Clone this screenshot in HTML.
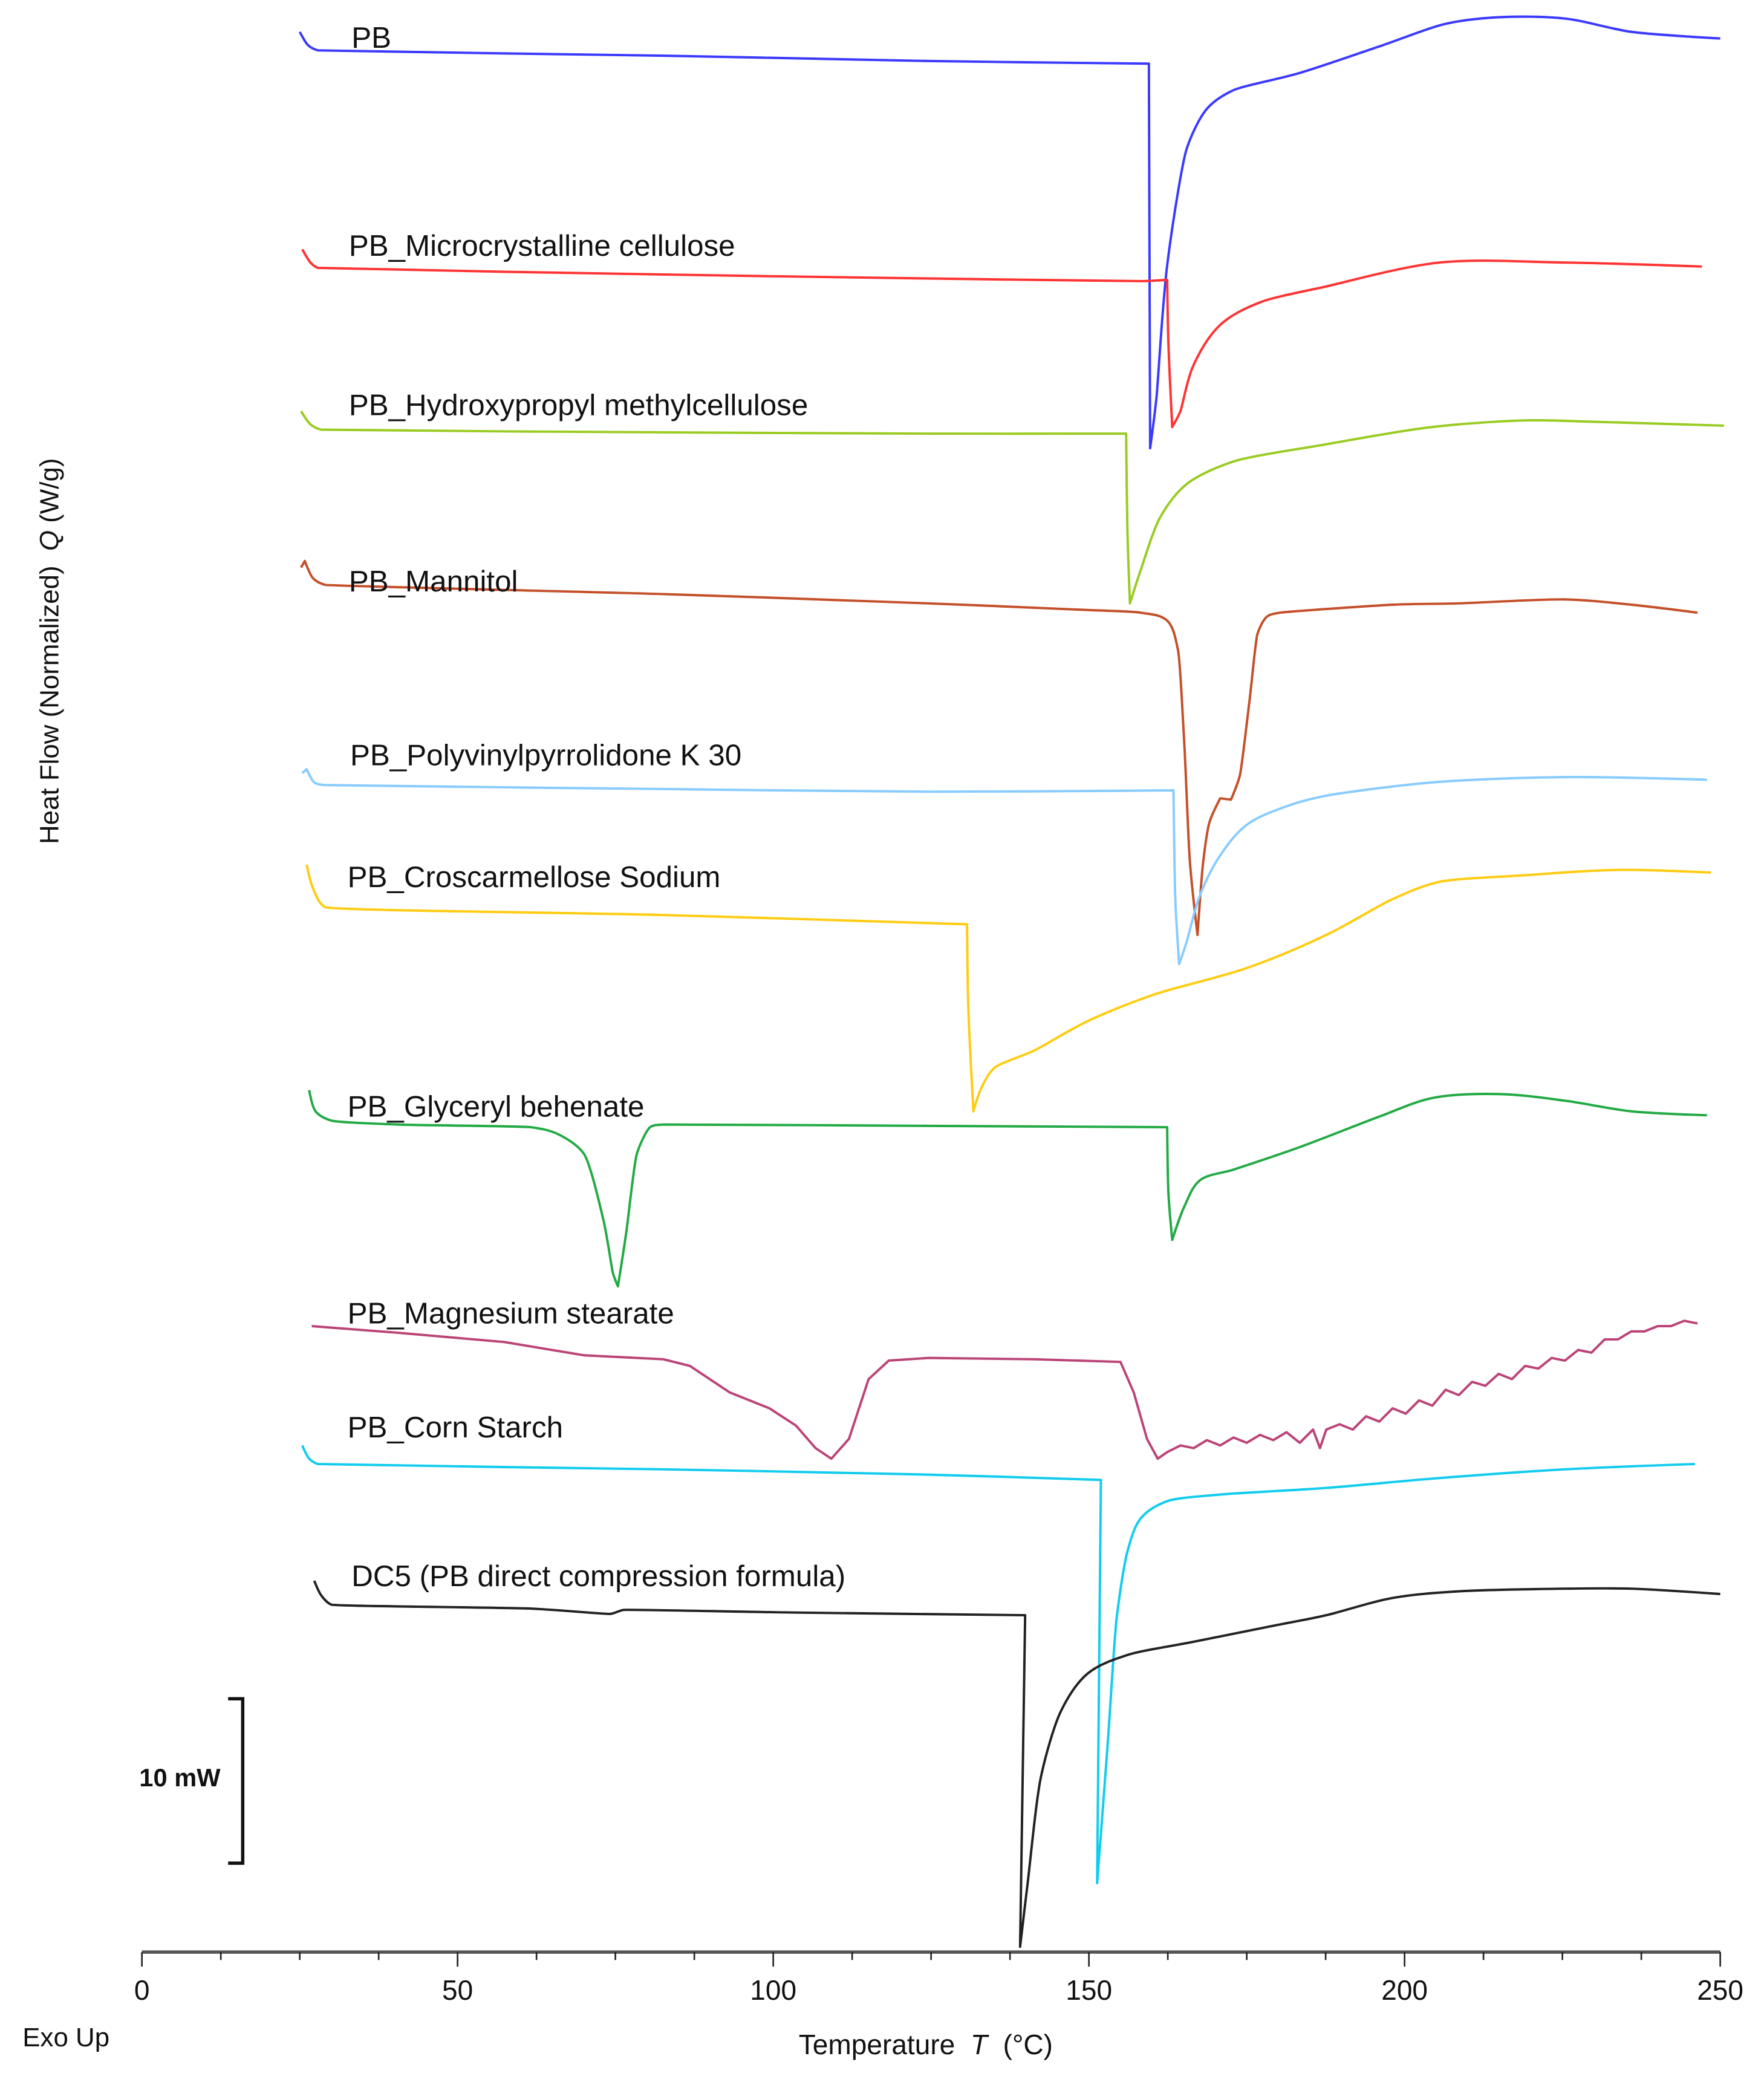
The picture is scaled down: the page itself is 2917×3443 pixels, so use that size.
<!DOCTYPE html>
<html><head><meta charset="utf-8"><style>
html,body{margin:0;padding:0;background:#fff;}
svg{display:block;}
text{font-family:"Liberation Sans",Arial,sans-serif;fill:#111;}
</style></head><body>
<svg id="chart" xmlns="http://www.w3.org/2000/svg" width="2917" height="3443" viewBox="0 0 1330 1570" preserveAspectRatio="none">
<rect x="0" y="0" width="1330" height="1570" fill="#fff"/>
<g id="curves"></g>
<g id="labels"></g>
<g id="xaxis"></g>
<text x="44" y="491" font-size="20" text-anchor="middle" transform="rotate(-90 44 491)">Heat Flow (Normalized)&#160;&#160;<tspan font-style="italic">Q</tspan> (W/g)</text>
<g>
<path d="M172 1281 H183 V1405 H172" fill="none" stroke="#111" stroke-width="2.5"/>
<text x="105" y="1347" font-size="19" font-weight="bold">10 mW</text>
</g>
<text x="17" y="1543" font-size="20">Exo Up</text>
<text x="698" y="1549" font-size="21" text-anchor="middle">Temperature&#160;&#160;<tspan font-style="italic">T</tspan>&#160;&#160;(°C)</text>
</svg>
<script>
const xTicks = [0, 50, 100, 150, 200, 250];
const tPB = [25.0,26.3,27.9,82.6,124.6,159.5,159.7,160.7,162.4,165.5,168.7,172.9,183.4,196.0,206.5,214.9,225.4,235.9,250];
const qPB = [1448,1438,1434,1430,1426,1424,1134,1172,1272,1360,1390,1404,1417,1437,1454,1459,1458,1448,1443];
const tMCC = [25.4,26.7,27.9,82.6,124.6,158.6,162.4,162.6,163.2,164.5,166.6,170.8,177.1,187.6,205.5,225.4,247.1];
const qMCC = [1284,1274,1270,1265,1262,1260,1261,1212,1150,1162,1197,1227,1244,1256,1274,1274,1271];
const tHPMC = [25.2,26.7,28.4,82.6,124.6,155.9,156.1,156.5,158.2,161.3,165.5,172.9,187.6,204.4,219.1,229.6,250.6];
const qHPMC = [1162,1152,1148,1146,1145,1145,1072,1017,1042,1082,1107,1124,1137,1150,1155,1154,1151];
const tMan = [25.2,25.8,27.1,29.0,82.6,124.6,149.8,158.2,162.4,164.1,165.1,166.0,167.2,168.1,169.1,170.8,172.5,173.9,175.4,176.7,178.2,180.3,198.1,208.6,225.4,235.9,246.4];
const qMan = [1044,1049,1036,1031,1024,1017,1012,1010,1004,982,912,822,767,822,852,870,869,887,942,994,1007,1010,1016,1017,1020,1016,1010];
const tPVP = [25.4,26.1,27.3,29.0,82.6,124.6,163.4,163.7,164.3,165.5,167.6,170.8,175.0,181.3,187.6,204.4,225.4,247.9];
const qPVP = [889,892,882,880,877,875,876,792,745,762,797,827,850,864,872,882,886,884];
const tCros = [26.1,27.1,29.0,82.6,130.7,130.9,131.7,133.0,135.1,141.4,149.8,160.3,175.0,187.6,198.1,205.5,219.1,233.8,248.5];
const qCros = [820,802,788,782,775,712,634,652,667,680,702,722,742,767,794,807,812,816,814];
const tGly = [26.5,27.5,30.0,40.5,61.6,65.8,70.0,73.1,74.6,75.4,76.7,78.4,80.5,82.6,124.6,162.4,162.6,163.2,165.1,167.6,172.9,183.4,196.0,204.4,214.9,225.4,235.9,247.9];
const qGly = [650,634,627,624,622,617,602,552,512,502,542,602,622,624,623,622,572,537,562,582,590,607,630,644,647,642,634,631];
const tMg = [26.9,40.5,57.4,70.0,82.6,86.8,93.1,99.4,103.6,106.7,109.2,112.0,115.1,118.3,124.6,141.4,155.0,157.1,159.2,160.9,162.4,164.5,166.6,168.7,170.8,172.9,175.0,177.1,179.2,181.3,183.4,185.5,186.6,187.6,189.7,191.8,193.9,196.0,198.1,200.2,202.3,204.4,206.5,208.6,210.7,212.8,214.9,217.0,219.1,221.2,223.3,225.4,227.5,229.6,231.7,233.8,235.9,238.0,240.1,242.2,244.3,246.4];
const qMg = [472,467,460,450,447,442,422,410,397,380,372,387,432,446,448,447,445,422,387,372,377,382,380,386,382,388,384,390,386,392,384,394,380,394,398,394,404,400,410,406,416,412,424,420,430,427,436,432,442,440,448,446,454,452,462,462,468,468,472,472,476,474];
const tCorn = [25.4,26.5,27.9,82.6,124.6,151.9,151.3,152.9,154.4,156.1,158.2,162.4,170.8,187.6,204.4,225.4,246.0];
const qCorn = [382,372,368,364,360,356,52,152,252,302,327,340,345,350,357,364,368];
const tDC5 = [27.3,28.4,30.0,61.6,74.2,76.3,103.6,139.9,139.1,140.3,142.4,145.6,149.8,156.1,166.6,179.2,187.6,198.1,208.6,225.4,235.9,250];
const qDC5 = [280,269,262,259,255,258,256,254,4,52,132,182,210,224,234,246,254,267,272,274,274,270];

const seriesNames = ['PB','PB_Microcrystalline cellulose','PB_Hydroxypropyl methylcellulose','PB_Mannitol','PB_Polyvinylpyrrolidone K 30','PB_Croscarmellose Sodium','PB_Glyceryl behenate','PB_Magnesium stearate','PB_Corn Starch','DC5 (PB direct compression formula)'];
const seriesT = [tPB,tMCC,tHPMC,tMan,tPVP,tCros,tGly,tMg,tCorn,tDC5];
const seriesQ = [qPB,qMCC,qHPMC,qMan,qPVP,qCros,qGly,qMg,qCorn,qDC5];
const colors = ['#3a3aff','#ff3333','#99cc22','#c4502a','#88ccff','#ffcc11','#22aa44','#bb4477','#11ccee','#222222'];
const labelPos = [[265,36],[263,193],[263,313],[263,446],[264,577],[262,669],[262,842],[262,998],[262,1084],[265,1196]];
const slugs = ['pb','microcrystalline-cellulose','hpmc','mannitol','pvp-k30','croscarmellose-sodium','glyceryl-behenate','magnesium-stearate','corn-starch','dc5'];

const X0 = 107, X1 = 1297, AX = 1472;
function xScale(t){ return X0 + t*(X1-X0)/250; }
function yScale(q){ return AX - q; }
const NS = 'http://www.w3.org/2000/svg';

function smoothPath(pts){
  const n = pts.length;
  const tan = [];
  for (let i=0;i<n;i++){
    if (i===0 || i===n-1){ tan.push([0,0]); continue; }
    const a = pts[i-1], b = pts[i], c = pts[i+1];
    const ix = b[0]-a[0], iy = b[1]-a[1], ox = c[0]-b[0], oy = c[1]-b[1];
    const li = Math.hypot(ix,iy)||1, lo = Math.hypot(ox,oy)||1;
    const cos = (ix*ox+iy*oy)/(li*lo);
    if (cos < 0.3){ tan.push([0,0]); continue; }
    let dx = ix/li + ox/lo, dy = iy/li + oy/lo;
    const ld = Math.hypot(dx,dy)||1;
    const m = 0.33*Math.min(li,lo);
    tan.push([dx/ld*m, dy/ld*m]);
  }
  let d = 'M' + pts[0][0].toFixed(2) + ' ' + pts[0][1].toFixed(2);
  for (let i=0;i<n-1;i++){
    const p1 = pts[i], p2 = pts[i+1];
    d += ' C' + (p1[0]+tan[i][0]).toFixed(2)+' '+(p1[1]+tan[i][1]).toFixed(2)+' '+(p2[0]-tan[i+1][0]).toFixed(2)+' '+(p2[1]-tan[i+1][1]).toFixed(2)+' '+p2[0].toFixed(2)+' '+p2[1].toFixed(2);
  }
  return d;
}

const cg = document.getElementById('curves');
const lg = document.getElementById('labels');
for (let i=0;i<seriesT.length;i++){
  const T = seriesT[i], Q = seriesQ[i];
  const pts = T.map((t,j)=>[xScale(t), yScale(Q[j])]);
  const p = document.createElementNS(NS,'path');
  p.setAttribute('d', i===7 ? pts.map((pt,j)=>(j?'L':'M')+pt[0].toFixed(2)+' '+pt[1].toFixed(2)).join(' ') : smoothPath(pts));
  p.setAttribute('fill','none');
  p.setAttribute('stroke', colors[i]);
  p.setAttribute('stroke-width','1.8');
  p.setAttribute('stroke-linejoin','round');
  
  
  cg.appendChild(p);
  const tx = document.createElementNS(NS,'text');
  tx.setAttribute('x', labelPos[i][0]);
  tx.setAttribute('y', labelPos[i][1]);
  tx.setAttribute('font-size','22.5');
  tx.textContent = seriesNames[i];
  
  
  lg.appendChild(tx);
}

const xg = document.getElementById('xaxis');
const axl = document.createElementNS(NS,'line');
axl.setAttribute('x1',X0); axl.setAttribute('x2',X1);
axl.setAttribute('y1',AX); axl.setAttribute('y2',AX);
axl.setAttribute('stroke','#555'); axl.setAttribute('stroke-width','2.5');


xg.appendChild(axl);
for (let t=0;t<=250.01;t+=12.5){
  const major = Math.abs(t%50) < 0.01;
  const tk = document.createElementNS(NS,'line');
  const x = xScale(t);
  tk.setAttribute('x1',x); tk.setAttribute('x2',x);
  tk.setAttribute('y1',AX); tk.setAttribute('y2',AX + (major?11:6));
  tk.setAttribute('stroke','#222'); tk.setAttribute('stroke-width','1.2');
  
  
  xg.appendChild(tk);
}
for (const v of xTicks){
  const tl = document.createElementNS(NS,'text');
  tl.setAttribute('x', xScale(v));
  tl.setAttribute('y', AX + 36);
  tl.setAttribute('font-size','21');
  tl.setAttribute('text-anchor','middle');
  tl.textContent = v;
  
  
  xg.appendChild(tl);
}
</script>
</body></html>
